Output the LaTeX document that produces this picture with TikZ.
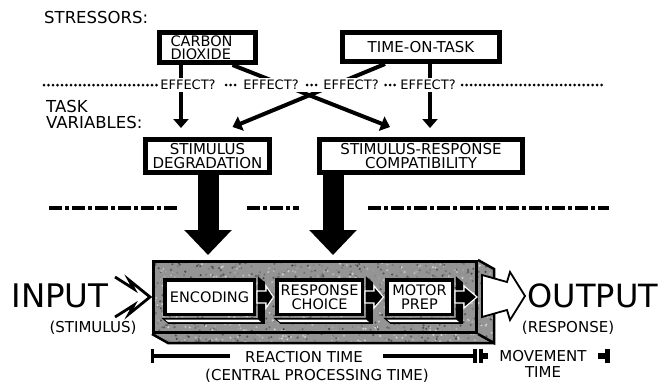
\documentclass[tikz,border=0pt]{standalone}
\usepackage{fontspec}
\setmainfont{DejaVu Sans}
\usetikzlibrary{arrows.meta,calc}
\newcommand\fsz[2]{\fontsize{#1}{#2}\selectfont}
\begin{document}
\begin{tikzpicture}[x=1pt,y=-1pt, line join=miter,
 topbox/.style={draw, line width=5pt, inner sep=0pt, align=center, font=\fsz{15}{14.5}},
 sarrow/.style={line width=4pt, -{Triangle[width=15pt,length=9pt]}},
 bigarrow/.style={line width=21pt, -{Triangle[width=46pt,length=25pt]}},
 effect/.style={font=\fsz{13}{13}, inner sep=0pt},
 dotline/.style={line width=3pt, line cap=round, dash pattern=on 0pt off 4.5pt},
 dashdot/.style={line width=4pt, dash pattern=on 13pt off 3pt on 4pt off 3pt},
 lbl/.style={font=\fsz{16.5}{16}, inner sep=0pt, align=left},
 innerbox/.style={draw, fill=white, line width=3.5pt, inner sep=0pt, align=center, minimum height=34.5pt, font=\fsz{14.5}{14}},
 linkarr/.style={fill=black, draw=white, line width=1.2pt},
 tk/.style={line width=3.5pt},
 small/.style={font=\fsz{15}{16}, inner sep=0pt, align=center}
]
\useasboundingbox (0,0) rectangle (670,383);

% ---------- top part ----------
\node[lbl, anchor=west] (stress) at (44,17) {STRESSORS:};
\node[lbl, anchor=west] (taskv) at (46,114.5) {TASK\\VARIABLES:};

\node[topbox, font=\fsz{14.5}{13.5}, text width=74pt, align=left, inner xsep=11pt, minimum height=30pt] (co2) at (207.5,47.5) {CARBON\\DIOXIDE};
\node[topbox, minimum width=157pt, minimum height=29pt] (tot) at (421,47) {TIME-ON-TASK};
\node[topbox, minimum width=124pt, minimum height=33pt] (sd) at (207.5,156) {STIMULUS\\DEGRADATION};
\node[topbox, minimum width=203pt, minimum height=33pt] (src) at (421,156) {STIMULUS-RESPONSE\\COMPATIBILITY};

\coordinate (xa) at (181,0);
\coordinate (xb) at (430,0);
\draw[sarrow, shorten >=9pt] (co2.south -| xa) -- (sd.north -| xa);
\draw[sarrow, shorten >=9pt] (tot.south -| xb) -- (src.north -| xb);
\draw[sarrow] ($(co2.south)+(25,0)$) -- ($(src.north)+(-31,-10)$);
\draw[sarrow] ($(tot.south)+(-36,0)$) -- ($(sd.north)+(25,-10)$);

% gap in the connectors along the effect row
\fill[white] (40,78) rectangle (615,92);

\draw[dotline] (44,85) -- (159,85);
\draw[dotline] (226,85) -- (235.2,85);
\draw[dotline] (307,85) -- (316.2,85);
\draw[dotline] (385.5,85) -- (394.7,85);
\draw[dotline] (462,85) -- (606,85);
\node[effect] (e1) at (188,85) {EFFECT?};
\node[effect] (e2) at (271,85) {EFFECT?};
\node[effect] (e3) at (351,85) {EFFECT?};
\node[effect] (e4) at (428,85) {EFFECT?};

% dash-dot separator
\draw[dashdot] (49,208) -- (179,208);
\draw[dashdot] (247,208) -- (299,208);
\draw[dashdot] (368,208) -- (609,208);

% big arrows
\coordinate (t1) at (208,255);
\coordinate (t2) at (333,255);
\draw[bigarrow] (sd.south -| t1) -- (t1);
\draw[bigarrow] (src.south -| t2) -- (t2);

% ---------- processing block ----------
\begin{scope}
\clip (152,260) -- (478,260) -- (494,269) -- (494,343) -- (168,343) -- (152,334) -- cycle;
\fill[black!42] (150,258) rectangle (496,345);
\pgfmathsetseed{12}
\foreach \i in {1,...,1500}{%
  \pgfmathsetmacro\px{150+346*rnd}%
  \pgfmathsetmacro\py{258+88*rnd}%
  \pgfmathsetmacro\sh{18+55*rnd}%
  \fill[black!\sh] (\px,\py) circle (1.2pt);}
\end{scope}
\draw[line width=2.5pt] (478,260) -- (494,269) -- (494,343) -- (478,334);
\draw[line width=2.5pt] (152,334) -- (168,343) -- (494,343);
\node[draw, line width=3pt, minimum width=323pt, minimum height=71pt, inner sep=0pt] (block) at (315,297) {};

\node[innerbox, minimum width=89.5pt] (enc) at (209.5,297) {ENCODING};
\node[innerbox, minimum width=85.5pt] (resp) at (319.5,297) {RESPONSE\\CHOICE};
\node[innerbox, minimum width=65.5pt] (motor) at (419.5,297) {MOTOR\\PREP};

\foreach \b in {enc,resp,motor}{%
  \fill[black] ($(\b.north east)+(1.75,-1.75)$) -- ($(\b.north east)+(8.75,4.25)$) -- ($(\b.south east)+(8.75,7.75)$) -- ($(\b.south west)+(5.25,7.75)$) -- ($(\b.south west)+(-1.75,1.75)$) -- ($(\b.south east)+(1.75,1.75)$) -- cycle;
  \fill[white] ($(\b.south west)+(2,3.5)$) -- ($(\b.south east)+(2,3.5)$) -- ($(\b.south east)+(5,6)$) -- ($(\b.south west)+(5,6)$) -- cycle;
}

\draw[linkarr] ($(enc.east)+(1,-6)$) -- ++(9,0) -- ++(0,-5) -- ($(resp.west)+(-1.5,0)$) -- ($(enc.east)+(10,11)$) -- ++(0,-5) -- ++(-9,0) -- cycle;
\draw[linkarr] ($(resp.east)+(1,-6)$) -- ++(9,0) -- ++(0,-5) -- ($(motor.west)+(-1.5,0)$) -- ($(resp.east)+(10,11)$) -- ++(0,-5) -- ++(-9,0) -- cycle;
\draw[linkarr] ($(motor.east)+(1,-6)$) -- ++(9,0) -- ++(0,-5) -- ($(block.east)+(-1,0)$) -- ($(motor.east)+(10,11)$) -- ++(0,-5) -- ++(-9,0) -- cycle;

% output arrow
\draw[fill=white, line width=1.8pt] (482,275) -- (507,282) -- (510,272) -- (525,296) -- (510,320) -- (507,310) -- (482,317) -- cycle;

% input / output
\node[font=\fsz{32.5}{32}, inner sep=0pt] (in) at (60,296) {INPUT};
\node[font=\fsz{32}{32}, inner sep=0pt] (out) at (593,296) {OUTPUT};
\draw[line width=2.8pt] (115,277) -- (134,289) -- (129,280) -- (150,297) -- (129,314) -- (134,305) -- (115,317);
\node[small] (stim) at (93,328) {(STIMULUS)};
\node[small] (resplbl) at (568,328) {(RESPONSE)};

% ---------- time line ----------
\draw[tk] (152.5,349) -- (152.5,363);
\draw[tk] (152,356) -- (230,356);
\node[small] (rt) at (304,357) {REACTION TIME};
\draw[tk] (383,356) -- (475,356);
\draw[line width=4pt] (475,349) -- (475,363);
\draw[line width=4pt] (481,349) -- (481,363);
\draw[line width=6pt] (481,356) -- (488,356);
\node[small] (mt) at (543,364) {MOVEMENT\\TIME};
\draw[line width=6pt] (598,356) -- (606,356);
\draw[line width=4.5pt] (607.5,349) -- (607.5,363);
\node[small] (cpt) at (317,375.5) {(CENTRAL PROCESSING TIME)};
\end{tikzpicture}
\end{document}
